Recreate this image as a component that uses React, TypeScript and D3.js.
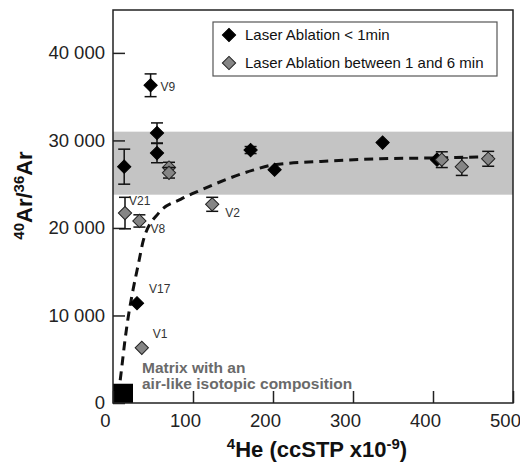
import React, {useEffect, useRef} from 'react';
import * as d3 from 'd3';

// Laser Ablation < 1min (black diamonds)
const fastX = [14, 47, 55, 55, 172, 202, 337, 405, 30];
const fastY = [27000, 36300, 30850, 28550, 28900, 26650, 29750, 27800, 11400];
const fastErr = [2000, 1300, 1150, 1100, 400, 0, 0, 0, 0];

// Laser Ablation between 1 and 6 min (grey diamonds)
const slowX = [15, 33, 70, 70, 124, 36, 411, 436, 469];
const slowY = [21700, 20800, 26900, 26300, 22700, 6300, 27800, 27000, 27900];
const slowErr = [1800, 700, 600, 600, 800, 0, 900, 1000, 850];

// sample labels
const labelNames = ['V9', 'V21', 'V8', 'V2', 'V17', 'V1'];
const labelX = [47, 15, 33, 124, 30, 36];
const labelY = [36300, 21700, 20800, 22700, 11400, 6300];

// mixing curve
const curveX = [9, 11, 15, 19, 25, 32, 38, 57, 85, 109, 175, 200, 260, 334, 400, 455, 480];
const curveY = [2600, 4100, 7200, 9800, 12900, 16000, 18600, 21700, 23300, 24300, 26600, 27200, 27600, 27900, 28000, 28100, 28150];

// atmospheric band and matrix box
const bandRange = [23800, 31000];
const matrixX = [0, 25];
const matrixY = [0, 2200];

const xTicks = [0, 100, 200, 300, 400, 500];
const yTicks = [0, 10000, 20000, 30000, 40000];

const legendNames = ['Laser Ablation < 1min', 'Laser Ablation between 1 and 6 min'];

export default function App() {
    const ref = useRef<SVGSVGElement>(null);

    useEffect(() => {
        const svg = d3.select(ref.current);
        svg.selectAll('*').remove();

        const left = 113, right = 513, top = 10, bottom = 403;
        const font = 'Arial, "Liberation Sans", sans-serif';

        const x = d3.scaleLinear().domain([0, 500]).range([left, right]);
        const y = d3.scaleLinear().domain([0, 44900]).range([bottom, top]);

        // grey band
        svg.append('rect')
            .attr('x', left)
            .attr('y', y(bandRange[1]))
            .attr('width', right - left)
            .attr('height', y(bandRange[0]) - y(bandRange[1]))
            .attr('fill', '#c4c4c4');

        // matrix square
        svg.append('rect')
            .attr('x', x(matrixX[0]))
            .attr('y', y(matrixY[1]))
            .attr('width', x(matrixX[1]) - x(matrixX[0]))
            .attr('height', y(matrixY[0]) - y(matrixY[1]))
            .attr('fill', '#000');

        // dashed curve
        const line = d3.line<number>()
            .x(i => x(curveX[i]))
            .y(i => y(curveY[i]))
            .curve(d3.curveMonotoneX);
        svg.append('path')
            .attr('d', line(curveX.map((_, i) => i)))
            .attr('fill', 'none')
            .attr('stroke', '#111')
            .attr('stroke-width', 3)
            .attr('stroke-dasharray', '9,6');

        // axes
        const fmt = (d: number) => d3.format(',')(d).replace(/,/g, ' ');
        const yAxis = d3.axisLeft(y).tickValues(yTicks).tickFormat(d => fmt(d as number))
            .tickSizeInner(-12).tickSizeOuter(0).tickPadding(8);
        const xAxis = d3.axisBottom(x).tickValues(xTicks).tickFormat(d3.format('d'))
            .tickSizeInner(-12).tickSizeOuter(0).tickPadding(11);

        const gy = svg.append('g').attr('transform', `translate(${left},0)`).call(yAxis);
        const gx = svg.append('g').attr('transform', `translate(0,${bottom})`).call(xAxis);
        [gx, gy].forEach(g => {
            g.select('.domain').remove();
            g.selectAll('line').attr('stroke', '#222').attr('stroke-width', 1.5);
            g.selectAll('text').attr('font-family', font).attr('font-size', 18.5).attr('fill', '#222');
        });
        // x labels sit a little left of their ticks in the original
        gx.selectAll('text').attr('dx', -8);

        // frame
        svg.append('rect')
            .attr('x', left).attr('y', top)
            .attr('width', right - left).attr('height', bottom - top)
            .attr('fill', 'none').attr('stroke', '#222').attr('stroke-width', 1.5);

        const diamond = d3.symbol().type(d3.symbolSquare).size(88);

        const drawSeries = (xs: number[], ys: number[], errs: number[], fill: string, stroke: string) => {
            xs.forEach((xv, i) => {
                if (errs[i] > 0) {
                    const g = svg.append('g').attr('stroke', '#111').attr('stroke-width', 1.5);
                    g.append('line')
                        .attr('x1', x(xv)).attr('x2', x(xv))
                        .attr('y1', y(ys[i] - errs[i])).attr('y2', y(ys[i] + errs[i]));
                    [ys[i] - errs[i], ys[i] + errs[i]].forEach(v => {
                        g.append('line')
                            .attr('x1', x(xv) - 6).attr('x2', x(xv) + 6)
                            .attr('y1', y(v)).attr('y2', y(v));
                    });
                }
                svg.append('path')
                    .attr('d', diamond()!)
                    .attr('transform', `translate(${x(xv)},${y(ys[i])}) rotate(45)`)
                    .attr('fill', fill)
                    .attr('stroke', stroke)
                    .attr('stroke-width', 1);
            });
        };

        drawSeries(fastX, fastY, fastErr, '#000', '#000');
        drawSeries(slowX, slowY, slowErr, '#858585', '#222');

        // sample labels
        const labelOffsets = [[10, 6], [4, -8], [11, 12], [13, 13], [12, -10], [11, -10]];
        labelNames.forEach((name, i) => {
            svg.append('text')
                .attr('x', x(labelX[i]) + labelOffsets[i][0])
                .attr('y', y(labelY[i]) + labelOffsets[i][1])
                .attr('font-family', font)
                .attr('font-size', 12)
                .attr('fill', '#333')
                .text(name);
        });

        // matrix annotation
        const note = svg.append('text')
            .attr('font-family', font)
            .attr('font-size', 15.5)
            .attr('font-weight', 'bold')
            .attr('fill', '#6a6a6a');
        note.append('tspan').attr('x', 142).attr('y', 373).text('Matrix with an');
        note.append('tspan').attr('x', 142).attr('y', 389).text('air-like isotopic composition');

        // legend
        const lg = svg.append('g');
        lg.append('rect')
            .attr('x', 213).attr('y', 22).attr('width', 284).attr('height', 54)
            .attr('fill', '#fff').attr('stroke', '#555').attr('stroke-width', 1.2);
        legendNames.forEach((name, i) => {
            const cy = 35 + i * 28;
            lg.append('path')
                .attr('d', diamond()!)
                .attr('transform', `translate(229,${cy}) rotate(45)`)
                .attr('fill', i === 0 ? '#000' : '#858585')
                .attr('stroke', i === 0 ? '#000' : '#222');
            lg.append('text')
                .attr('x', 245).attr('y', cy + 5)
                .attr('font-family', font)
                .attr('font-size', 15)
                .attr('fill', '#111')
                .text(name);
        });

        // axis titles
        const xt = svg.append('text')
            .attr('x', (left + right) / 2 + 4)
            .attr('y', 457)
            .attr('text-anchor', 'middle')
            .attr('font-family', font)
            .attr('font-size', 22)
            .attr('font-weight', 'bold')
            .attr('fill', '#111');
        xt.append('tspan').attr('font-size', 15).attr('dy', -8).text('4');
        xt.append('tspan').attr('dy', 8).text('He (ccSTP x10');
        xt.append('tspan').attr('font-size', 15).attr('dy', -8).text('-9');
        xt.append('tspan').attr('dy', 8).text(')');

        const yt = svg.append('text')
            .attr('transform', `translate(32,${(top + bottom) / 2 - 11}) rotate(-90)`)
            .attr('text-anchor', 'middle')
            .attr('font-family', font)
            .attr('font-size', 22)
            .attr('font-weight', 'bold')
            .attr('fill', '#111');
        yt.append('tspan').attr('font-size', 15).attr('dy', -8).text('40');
        yt.append('tspan').attr('dy', 8).text('Ar/');
        yt.append('tspan').attr('font-size', 15).attr('dy', -8).text('36');
        yt.append('tspan').attr('dy', 8).text('Ar');
    }, []);

    return (
        <svg ref={ref} width={520} height={470}
             style={{position: 'absolute', left: 0, top: 0, background: '#fff'}}></svg>
    );
}
